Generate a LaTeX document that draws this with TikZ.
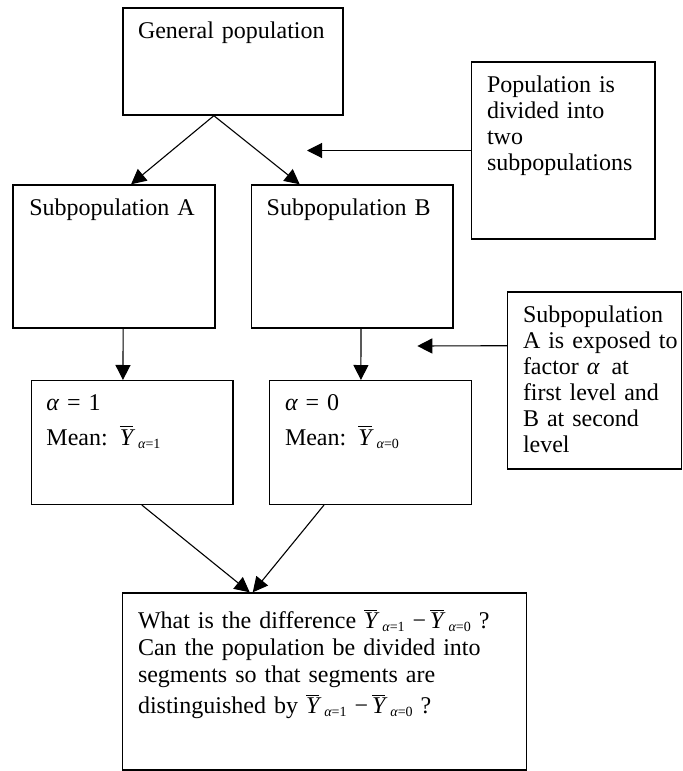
\documentclass[tikz,border=0pt]{standalone}
\usepackage{fontspec}
\setmainfont{Liberation Serif}
\usetikzlibrary{arrows.meta,calc}
\newcommand{\ybarsub}[1]{$\overline{\hbox{\itshape Y}}$\hspace{2.5pt}\raisebox{-1.5pt}{\fontsize{7}{8}\selectfont\itshape α\upshape =#1}}
\begin{document}
\begin{tikzpicture}[x=0.5pt,y=-0.5pt,
  box/.style={draw=black, line width=0.7pt, inner sep=0pt},
  txt/.style={anchor=base west, inner sep=0pt, outer sep=0pt, text width=200pt, align=left, font=\fontsize{12}{13}\selectfont},
  arr/.style={line width=0.55pt, -{Triangle[length=7.5pt,width=7.5pt]}}]
\useasboundingbox (0,0) rectangle (682,771);
% boxes
\node[box, minimum width=110pt,   minimum height=53.5pt] (gp) at (233,61.5) {};
\node[box, minimum width=91.75pt, minimum height=88.5pt] (r1) at (563.25,150.5) {};
\node[box, minimum width=101pt,   minimum height=71.5pt] (sa) at (114,256.5) {};
\node[box, minimum width=100.75pt,minimum height=71.5pt] (sb) at (352.25,256.5) {};
\node[box, minimum width=100.75pt,minimum height=61.8pt] (aa) at (132.25,442.5) {};
\node[box, minimum width=101.2pt, minimum height=61.8pt] (ab) at (370.5,442.5) {};
\node[box, minimum width=86.9pt,  minimum height=88.5pt] (r2) at (594.6,380.5) {};
\node[box, minimum width=202pt,   minimum height=88.5pt] (bb) at (324.7,681.5) {};
% texts
\node[txt] (gpt) at (138,39) {General population};
\node[txt] (r1t) at (487,92) {Population is\\divided into\\two\\subpopulations};
\node[txt] (sat) at (29.3,215.7) {Subpopulation A};
\node[txt] (sbt) at (266.7,215.7) {Subpopulation B};
\node[txt] (aat) at (46.5,410) {{\itshape α} = 1\\[4.5pt]Mean: \ybarsub{1}};
\node[txt] (abt) at (285,410) {{\itshape α} = 0\\[4.5pt]Mean: \ybarsub{0}};
\node[txt] (r2t) at (523,322) {Subpopulation\\A is exposed to\\factor {\itshape α}\, at\\first level and\\B at second\\level};
\node[txt, font=\fontsize{12}{13.5}\selectfont] (bbt) at (138,628.5) {What is the difference \ybarsub{1}\hspace{4pt}−\hspace{2pt}\ybarsub{0} ?\\Can the population be divided into\\segments so that segments are\\[2pt]distinguished by \ybarsub{1}\hspace{4pt}−\hspace{2pt}\ybarsub{0} ?};
% free ends
\coordinate (t1) at (307,150.5);
\coordinate (t2) at (417.3,346);
% connectors
\draw[arr] ($(gp.south west)!0.4136!(gp.south east)$) -- ($(sa.north west)!0.584!(sa.north east)$);
\draw[arr] ($(gp.south west)!0.4136!(gp.south east)$) -- ($(sb.north west)!0.241!(sb.north east)$);
\draw[arr] (r1.west) -- (t1);
\draw[arr] ($(sa.south west)!0.545!(sa.south east)$) -- ($(aa.north west)!0.454!(aa.north east)$);
\draw[arr] ($(sb.south west)!0.543!(sb.south east)$) -- ($(ab.north west)!0.453!(ab.north east)$);
\draw[arr] ($(r2.north west)!0.305!(r2.south west)$) -- (t2);
\draw[arr] ($(aa.south west)!0.547!(aa.south east)$) -- ($(bb.north west)!0.315!(bb.north east)$);
\draw[arr] ($(ab.south west)!0.272!(ab.south east)$) -- ($(bb.north west)!0.3225!(bb.north east)$);
\end{tikzpicture}
\end{document}
